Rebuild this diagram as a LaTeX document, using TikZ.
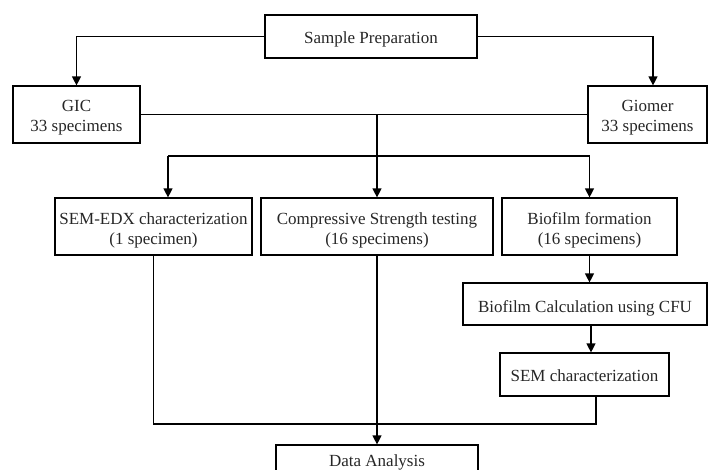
\documentclass[tikz,border=0pt]{standalone}
\usepackage{fontspec}
\setmainfont{Liberation Serif}
\usetikzlibrary{arrows.meta,calc}
\newcommand\boxlbl[2][3pt]{\raisebox{-#1}[\height][\depth]{\begin{tabular}{@{}c@{}}#2\end{tabular}}}
\begin{document}
\begin{tikzpicture}[x=1pt,y=-1pt,
  box/.style={draw, line width=1.2pt, inner sep=0pt,
    font=\fontsize{17}{20}\selectfont, text=black!85},
  link/.style={line width=1.2pt},
  arr/.style={line width=1.2pt, -{Triangle[width=9pt,length=9pt]}}]
\useasboundingbox (0,0) rectangle (708,469);
\clip (0,0) rectangle (708,469);
\node[box, minimum width=212pt, minimum height=43pt] (prep) at (371,36.5) {\boxlbl{Sample Preparation}};
\node[box, minimum width=127pt, minimum height=57pt] (gic) at (76.5,114.5) {\boxlbl{GIC\\33 specimens}};
\node[box, minimum width=119pt, minimum height=57pt] (giomer) at (647.5,114.5) {\boxlbl{Giomer\\33 specimens}};
\node[box, minimum width=197pt, minimum height=57pt] (semedx) at (153.5,226.5) {\boxlbl[3.5pt]{SEM-EDX characterization\\(1 specimen)}};
\node[box, minimum width=232pt, minimum height=57pt] (comp) at (377,226.5) {\boxlbl[3.5pt]{Compressive Strength testing\\(16 specimens)}};
\node[box, minimum width=175pt, minimum height=57pt] (biof) at (589.5,226.5) {\boxlbl[3.5pt]{Biofilm formation\\(16 specimens)}};
\node[box, minimum width=244pt, minimum height=42pt] (calc) at (585,304) {\boxlbl[4.5pt]{Biofilm Calculation using CFU}};
\node[box, minimum width=169pt, minimum height=43pt] (semchar) at (584.5,374.5) {\boxlbl[3pt]{SEM characterization}};
\node[box, minimum width=202pt, minimum height=30pt] (data) at (377,460) {\boxlbl[2pt]{Data Analysis}};
% connectors
\draw[arr] (prep.west) -| (gic.north);
\draw[arr] (prep.east) -| ([xshift=5.5pt]giomer.north);
\draw[link] (gic.east) -- (giomer.west);
\coordinate (j1) at (377,114.5);
\draw[arr] (j1) -- (comp.north);
\coordinate (b1) at (168,156);
\coordinate (b2) at (589.5,156);
\draw[link] (b1) -- (b2);
\draw[arr] (b1) -- (b1 |- semedx.north);
\draw[arr] (b2) -- (biof.north);
\draw[arr] (biof.south) -- (biof.south |- calc.north);
\draw[arr] ([xshift=6pt]calc.south) -- ([xshift=6pt]calc.south |- semchar.north);
\coordinate (m) at (377,424);
\draw[link] (semedx.south) |- (m);
\draw[link] ([xshift=11.5pt]semchar.south) |- (m);
\draw[arr] (comp.south) -- (data.north);
\end{tikzpicture}
\end{document}
